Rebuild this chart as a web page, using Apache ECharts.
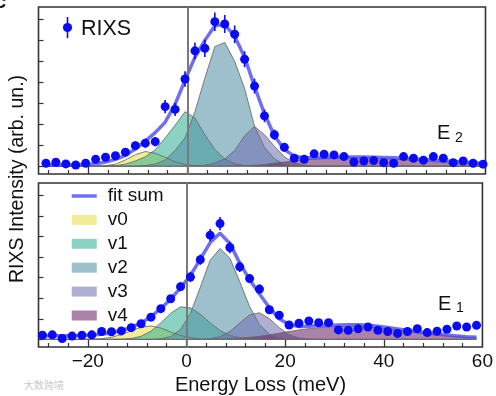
<!DOCTYPE html>
<html><head><meta charset="utf-8">
<script src="https://cdn.jsdelivr.net/npm/echarts@6/dist/echarts.min.js"></script>
<style>html,body{margin:0;padding:0;background:#fff}#c{width:496px;height:396px}</style>
</head><body><div id="c"></div>
<script>
// ---------- data ----------
const xTop = [-28.5,-26.5,-24.5,-22.5,-20.5,-18.5,-16.5,-14.5,-12.5,-10.5,-8.5,-6.5,-4.5,-2.5,-0.5,1.5,3.5,5.5,7.5,9.5,11.5,13.5,15.5,17.5,19.5,21.5,23.5,25.5,27.5,29.5,31.5,33.5,35.5,37.5,39.5,41.5,43.5,45.5,47.5,49.5,51.5,53.5,55.5,57.5,59.5];
const rixsTop = [0.14,0.19,0.11,0.06,0.14,0.33,0.43,0.5,0.67,0.98,1.1,1.17,2.84,2.71,4.16,5.5,5.62,6.89,6.78,6.29,5.1,3.82,2.4,1.5,0.9,0.38,0.33,0.59,0.57,0.54,0.46,0.2,0.25,0.27,0.17,0.14,0.46,0.38,0.29,0.46,0.38,0.17,0.25,0.14,0.1];
const errTop = [0.12,0.12,0.12,0.12,0.12,0.15,0.15,0.16,0.18,0.2,0.21,0.22,0.32,0.31,0.37,0.4,0.41,0.44,0.43,0.42,0.38,0.35,0.3,0.25,0.2,0.15,0.15,0.17,0.17,0.17,0.16,0.13,0.14,0.14,0.12,0.12,0.16,0.15,0.14,0.16,0.15,0.12,0.14,0.12,0.12];
const fitTop = [0.06,0.06,0.06,0.07,0.08,0.12,0.2,0.33,0.52,0.82,1.2,1.6,2.1,2.95,4.1,5.2,6.0,6.7,6.75,6.2,5.2,3.8,2.5,1.45,0.8,0.48,0.4,0.4,0.42,0.43,0.44,0.44,0.44,0.43,0.42,0.4,0.38,0.35,0.32,0.29,0.26,0.23,0.2,0.17,0.14];
const v0Top = [0,0,0,0,0,0.01,0.03,0.1,0.3,0.55,0.7,0.62,0.42,0.22,0.08,0.02,0,0,0,0,0,0,0,0,0,0,0,0,0,0,0,0,0,0,0,0,0,0,0,0,0,0,0,0,0];
const v1Top = [0,0,0,0,0,0,0.01,0.03,0.1,0.25,0.45,0.78,1.35,1.95,2.6,2.3,1.5,0.8,0.35,0.12,0.03,0,0,0,0,0,0,0,0,0,0,0,0,0,0,0,0,0,0,0,0,0,0,0,0];
const v2Top = [0,0,0,0,0,0,0,0,0,0,0.03,0.1,0.3,0.75,1.35,2.6,4.2,5.7,5.9,5.0,3.7,1.9,0.9,0.35,0.1,0.03,0,0,0,0,0,0,0,0,0,0,0,0,0,0,0,0,0,0,0];
const v3Top = [0,0,0,0,0,0,0,0,0,0,0,0,0,0,0,0.01,0.05,0.15,0.35,0.75,1.45,1.9,1.5,0.95,0.45,0.15,0.05,0.01,0,0,0,0,0,0,0,0,0,0,0,0,0,0,0,0,0];
const v4Top = [0,0,0,0,0,0,0,0,0,0,0,0,0,0,0,0,0,0,0.01,0.02,0.03,0.05,0.08,0.15,0.2,0.26,0.3,0.34,0.37,0.39,0.4,0.4,0.4,0.39,0.37,0.34,0.31,0.28,0.24,0.21,0.18,0.15,0.12,0.1,0.08];

const xBot = [-29.2,-27.2,-25.2,-23.2,-21.2,-19.2,-17.2,-15.2,-13.2,-11.2,-9.2,-7.2,-5.2,-3.2,-1.2,0.8,2.8,4.8,6.8,8.8,10.8,12.8,14.8,16.8,18.8,20.8,22.8,24.8,26.8,28.8,30.8,32.8,34.8,36.8,38.8,40.8,42.8,44.8,46.8,48.8,50.8,52.8,54.8,56.8,58.8];
const rixsBot = [0.2,0.22,0.04,0.16,0.2,0.22,0.38,0.37,0.41,0.57,0.76,1.08,1.49,1.97,2.56,3.03,3.87,5.06,5.62,4.46,3.52,2.95,2.44,1.44,1.17,0.7,0.78,0.89,0.81,0.81,0.46,0.44,0.51,0.6,0.44,0.38,0.29,0.38,0.52,0.33,0.4,0.49,0.65,0.6,0.68];
const errBot = [0.1,0.1,0.1,0.1,0.1,0.1,0.1,0.1,0.1,0.13,0.13,0.17,0.17,0.17,0.22,0.25,0.25,0.3,0.32,0.28,0.25,0.22,0.22,0.17,0.17,0.13,0.13,0.13,0.13,0.13,0.1,0.1,0.13,0.13,0.1,0.1,0.1,0.1,0.13,0.1,0.1,0.1,0.13,0.13,0.13];
const fitBot = [0.17,0.17,0.17,0.18,0.19,0.21,0.25,0.32,0.42,0.58,0.8,1.1,1.5,1.95,2.5,3.1,3.9,4.7,5.15,4.65,3.7,2.9,2.2,1.55,1.0,0.72,0.62,0.64,0.67,0.69,0.7,0.71,0.71,0.69,0.64,0.58,0.51,0.44,0.37,0.31,0.26,0.21,0.17,0.13,0.1];
const v0Bot = [0,0,0,0,0,0.01,0.03,0.1,0.24,0.42,0.59,0.65,0.55,0.36,0.19,0.08,0.02,0,0,0,0,0,0,0,0,0,0,0,0,0,0,0,0,0,0,0,0,0,0,0,0,0,0,0,0];
const v1Bot = [0,0,0,0,0,0,0,0,0.01,0.04,0.15,0.4,0.8,1.27,1.58,1.53,1.22,0.8,0.43,0.19,0.07,0.02,0,0,0,0,0,0,0,0,0,0,0,0,0,0,0,0,0,0,0,0,0,0,0];
const v2Bot = [0,0,0,0,0,0,0,0,0,0,0,0,0.03,0.14,0.48,1.26,2.53,3.84,4.41,3.94,2.8,1.59,0.72,0.26,0.07,0.02,0,0,0,0,0,0,0,0,0,0,0,0,0,0,0,0,0,0,0];
const v3Bot = [0,0,0,0,0,0,0,0,0,0,0,0,0,0,0,0,0,0.03,0.13,0.38,0.79,1.19,1.29,1.01,0.57,0.23,0.07,0.02,0,0,0,0,0,0,0,0,0,0,0,0,0,0,0,0,0];
const v4Bot = [0,0,0,0,0,0,0,0,0,0,0,0,0,0,0,0,0,0.01,0.02,0.03,0.06,0.1,0.15,0.22,0.3,0.38,0.46,0.52,0.57,0.6,0.62,0.63,0.63,0.6,0.55,0.5,0.44,0.38,0.32,0.26,0.21,0.17,0.13,0.1,0.08];

const compNames = ['v0','v1','v2','v3','v4'];
const minorTicks = [-28,-24,-16,-12,-8,-4,4,8,12,16,24,28,32,36,44,48,52,56];
const majorTicks = [-20,0,20,40];
const xLabels = [-20,0,20,40,60];
const yTicks = [0,1,2,3,4,5,6,7];

// ---------- style ----------
const FONT = '"Liberation Sans", Arial, Helvetica, sans-serif';
const compColors = ['rgba(230,222,70,0.55)','rgba(46,173,146,0.55)','rgba(79,140,162,0.55)','rgba(110,110,177,0.55)','rgba(100,28,100,0.55)'];
const DOT = '#0b0bf2';
const FIT = 'rgba(70,70,235,0.78)';
const AX = '#333';

const chart = echarts.init(document.getElementById('c'), null, {renderer:'canvas'});

function grid(top){ return {left:38.5, top:top, width:447, height:167, show:true, borderColor:AX, borderWidth:1.6, backgroundColor:'transparent'}; }
function xAxes(gi, withLabels){
  return [
    {type:'value', gridIndex:gi, min:-30, max:60, position:'bottom', axisLine:{show:false, onZero:false}, splitLine:{show:false},
     axisTick:{show:true, inside:true, length:4, customValues:minorTicks, lineStyle:{color:AX, width:1.2}}, axisLabel:{show:false}},
    {type:'value', gridIndex:gi, min:-30, max:60, position:'bottom', axisLine:{show:false, onZero:false}, splitLine:{show:false},
     axisTick:{show:true, inside:true, length:7, customValues:majorTicks, lineStyle:{color:AX, width:1.3}},
     axisLabel:{show:withLabels, customValues:xLabels, margin:5, fontSize:19, fontFamily:FONT, color:'#111',
       formatter:v=> v<0 ? '\u2212'+Math.abs(v) : String(v)},
     name: withLabels ? 'Energy Loss (meV)' : '', nameLocation:'middle', nameGap:28,
     nameTextStyle:{fontSize:20, fontFamily:FONT, color:'#111'}}
  ];
}
function yAxis(gi){
  return {type:'value', gridIndex:gi, min:-0.37, max:7.59, position:'left', axisLine:{show:false, onZero:false}, splitLine:{show:false},
    axisTick:{show:true, inside:true, length:5, customValues:yTicks, lineStyle:{color:AX, width:1.2}}, axisLabel:{show:false}};
}

function panelSeries(xi, yi, xs, comps, fit, pts, errs){
  const out = [];
  comps.forEach((c, j) => {
    out.push({name:compNames[j], type:'line', xAxisIndex:xi, yAxisIndex:yi, symbol:'none', silent:true,
      data: xs.map((x,i)=>[x, c[i]]),
      lineStyle:{color:'rgba(105,105,105,0.85)', width:1}, itemStyle:{color:compColors[j]},
      areaStyle:{color:compColors[j], opacity:1}, z:2});
  });
  out.push({name:'fit sum', type:'line', xAxisIndex:xi, yAxisIndex:yi, symbol:'none', showSymbol:false, silent:true,
    data: xs.map((x,i)=>[x, fit[i]]), lineStyle:{color:FIT, width:3.5}, itemStyle:{color:FIT}, z:3,
    markLine:{silent:true, symbol:'none', label:{show:false}, lineStyle:{color:'#7a7a7a', width:2, type:'solid'}, data:[{xAxis:0}]}});
  out.push({name:'err', type:'custom', xAxisIndex:xi, yAxisIndex:yi, silent:true, z:4,
    data: xs.map((x,i)=>[x, pts[i]-errs[i], pts[i]+errs[i]]),
    encode:{x:0, y:[1,2]},
    renderItem:(params, api)=>{
      const a = api.coord([api.value(0), api.value(1)]);
      const b = api.coord([api.value(0), api.value(2)]);
      return {type:'line', shape:{x1:a[0], y1:a[1], x2:b[0], y2:b[1]}, style:{stroke:DOT, lineWidth:1.6}};
    }});
  out.push({name:'RIXS', type:'scatter', xAxisIndex:xi, yAxisIndex:yi, symbol:'circle', symbolSize:9, silent:true,
    data: xs.map((x,i)=>[x, pts[i]]), itemStyle:{color:DOT, opacity:1}, z:5});
  return out;
}

const option = {
  animation:false,
  backgroundColor:'#fff',
  grid:[grid(7), grid(183)],
  xAxis:[...xAxes(0,false), ...xAxes(1,true)],
  yAxis:[yAxis(0), yAxis(1)],
  legend:{orient:'vertical', left:70, top:186.5, padding:0, itemWidth:25, itemHeight:10, itemGap:4.9, selectedMode:false,
    textStyle:{fontSize:19, fontFamily:FONT, color:'#111', padding:[0,0,0,6]},
    data:[{name:'fit sum', itemStyle:{opacity:0}, lineStyle:{color:FIT, width:3.5}}].concat(compNames.map((n,j)=>({name:n, icon:'rect', itemStyle:{color:compColors[j], borderWidth:0}})))},
  series:[
    ...panelSeries(0, 0, xTop, [v0Top,v1Top,v2Top,v3Top,v4Top], fitTop, rixsTop, errTop),
    ...panelSeries(2, 1, xBot, [v0Bot,v1Bot,v2Bot,v3Bot,v4Bot], fitBot, rixsBot, errBot)
  ],
  graphic:[
    {type:'line', shape:{x1:67.5, y1:17, x2:67.5, y2:38}, style:{stroke:DOT, lineWidth:1.6}, z:10},
    {type:'circle', shape:{cx:67.5, cy:27.5, r:4.6}, style:{fill:DOT}, z:10},
    {type:'text', x:81, y:29, style:{text:'RIXS', font:'21.5px '+FONT, fill:'#111', verticalAlign:'middle'}, z:10},
    {type:'text', x:437, y:133, style:{text:'E', font:'20px '+FONT, fill:'#111', verticalAlign:'middle'}, z:10},
    {type:'text', x:455, y:138, style:{text:'2', font:'14px '+FONT, fill:'#111', verticalAlign:'middle'}, z:10},
    {type:'text', x:438, y:304, style:{text:'E', font:'20px '+FONT, fill:'#111', verticalAlign:'middle'}, z:10},
    {type:'text', x:456, y:308.5, style:{text:'1', font:'14px '+FONT, fill:'#111', verticalAlign:'middle'}, z:10},
    {type:'text', x:17.5, y:179, rotation:Math.PI/2, style:{text:'RIXS Intensity (arb. un.)', font:'19.5px '+FONT, fill:'#111', align:'center', verticalAlign:'middle'}, z:10},
    {type:'text', x:-5, y:12, style:{text:'c', font:'bold 20px '+FONT, fill:'#111', verticalAlign:'bottom'}, z:10},
    {type:'text', x:24, y:385, style:{text:'大数跨境', font:'10px "Noto Sans CJK SC"', fill:'#c8c8c8', verticalAlign:'middle'}, z:10}
  ]
};
chart.setOption(option);
</script>
</body></html>
